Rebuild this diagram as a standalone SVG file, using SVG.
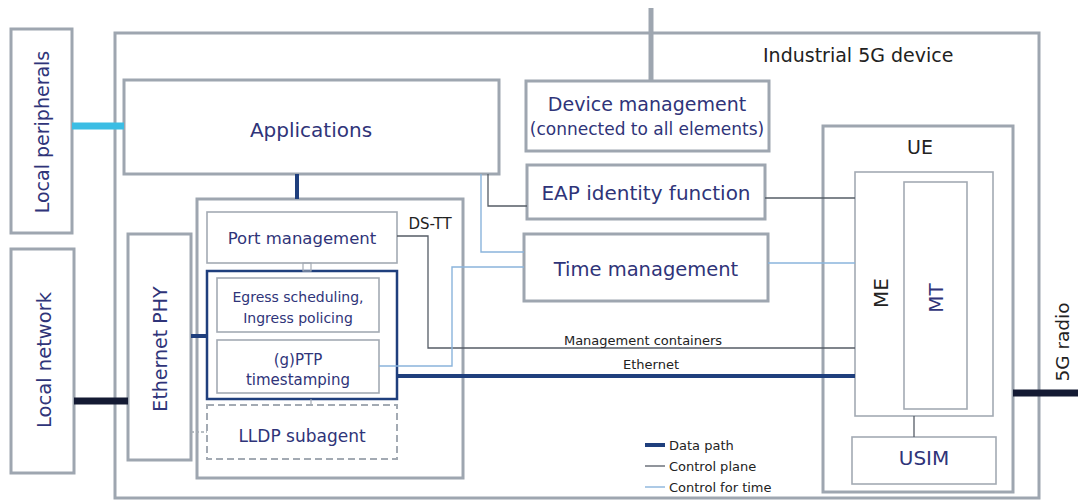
<svg xmlns="http://www.w3.org/2000/svg" width="1078" height="502" viewBox="0 0 1078 502">
<style>
text{font-family:"DejaVu Sans","Liberation Sans",sans-serif;}
.lbl{fill:#2f3479;}
.blk{fill:#222222;}
.box{fill:#ffffff;stroke:#9ea6b0;stroke-width:3;}
.thin{fill:#ffffff;stroke:#a3aab3;stroke-width:1.6;}
.data{stroke:#1f3f7d;stroke-width:4;fill:none;}
.ctrl{stroke:#555c66;stroke-width:1.3;fill:none;}
.time{stroke:#8ab4dc;stroke-width:1.4;fill:none;}
</style>
<rect width="1078" height="502" fill="#ffffff"/>

<g id="industrial-5g-device">
<rect class="box" x="115" y="33" width="924" height="465" stroke-width="3.3"/>
<text class="blk" x="763" y="62" font-size="19">Industrial 5G device</text>
</g>

<g id="local-peripherals">
<rect class="box" x="11" y="29" width="61" height="204"/>
<text class="lbl" transform="translate(49,132) rotate(-90)" font-size="19" text-anchor="middle">Local peripherals</text>
</g>

<g id="local-network">
<rect class="box" x="11" y="249" width="63" height="224"/>
<text class="lbl" transform="translate(51,360) rotate(-90)" font-size="19.5" text-anchor="middle">Local network</text>
</g>

<g id="applications">
<rect class="box" x="124" y="80" width="375" height="94"/>
<text class="lbl" x="311" y="137" font-size="20" text-anchor="middle">Applications</text>
</g>

<g id="device-management">
<rect class="box" x="526" y="81" width="243" height="70"/>
<text class="lbl" x="647" y="111" font-size="19" text-anchor="middle">Device management</text>
<text class="lbl" x="647" y="135" font-size="17" text-anchor="middle">(connected to all elements)</text>
</g>

<g id="eap-identity-function">
<rect class="box" x="527" y="165" width="238" height="54"/>
<text class="lbl" x="646" y="200" font-size="20" text-anchor="middle">EAP identity function</text>
</g>

<g id="time-management">
<rect class="box" x="524" y="234" width="244" height="67"/>
<text class="lbl" x="646" y="276" font-size="19.5" text-anchor="middle">Time management</text>
</g>

<g id="ethernet-phy">
<rect class="box" x="128" y="234" width="63" height="226"/>
<text class="lbl" transform="translate(167,349) rotate(-90)" font-size="19" text-anchor="middle">Ethernet PHY</text>
</g>

<g id="ds-tt">
<rect class="box" x="197" y="199" width="266" height="279"/>
<text class="blk" x="430" y="229" font-size="15" text-anchor="middle">DS-TT</text>
</g>

<g id="port-management">
<rect class="thin" x="207" y="212" width="190" height="51"/>
<text class="lbl" x="302" y="244" font-size="16.5" text-anchor="middle">Port management</text>
</g>

<g id="switching-block">
<rect x="207" y="271" width="190" height="128" fill="#ffffff" stroke="#1f3f7d" stroke-width="2.5"/>
</g>

<g id="egress-ingress">
<rect class="thin" x="217" y="278" width="162" height="54"/>
<text class="lbl" x="298" y="302" font-size="14" text-anchor="middle">Egress scheduling,</text>
<text class="lbl" x="298" y="323" font-size="14" text-anchor="middle">Ingress policing</text>
</g>

<g id="gptp-timestamping">
<rect class="thin" x="217" y="340" width="162" height="53"/>
<text class="lbl" x="298" y="365" font-size="15" text-anchor="middle">(g)PTP</text>
<text class="lbl" x="298" y="385" font-size="15" text-anchor="middle">timestamping</text>
</g>

<g id="lldp-subagent">
<rect x="207" y="405" width="190" height="54" fill="#ffffff" stroke="#a3aab3" stroke-width="2" stroke-dasharray="7,4"/>
<text class="lbl" x="302" y="442" font-size="17" text-anchor="middle">LLDP subagent</text>
</g>

<g id="ue">
<rect class="box" x="823" y="126" width="190" height="366"/>
<text class="blk" x="920" y="154" font-size="19" text-anchor="middle">UE</text>
</g>

<g id="me">
<rect class="thin" x="855" y="172" width="138" height="244" stroke-width="2"/>
<text class="blk" transform="translate(888,293) rotate(-90)" font-size="20" text-anchor="middle">ME</text>
</g>

<g id="mt">
<rect class="thin" x="904" y="182" width="63" height="227" stroke-width="2"/>
<text class="lbl" transform="translate(943,298) rotate(-90)" font-size="20" text-anchor="middle">MT</text>
</g>

<g id="usim">
<rect class="thin" x="852" y="437" width="144" height="47" stroke-width="2"/>
<text class="lbl" x="924" y="465" font-size="20" text-anchor="middle">USIM</text>
</g>

<g id="radio-label">
<text class="blk" transform="translate(1069,342) rotate(-90)" font-size="18.5" text-anchor="middle">5G radio</text>
</g>

<g id="connectors">
<line x1="651" y1="8" x2="651" y2="81" stroke="#9ea6b0" stroke-width="5"/>
<line x1="72" y1="126" x2="124" y2="126" stroke="#3bbde4" stroke-width="7"/>
<line x1="74" y1="401" x2="128" y2="401" stroke="#141a33" stroke-width="7"/>
<line x1="1013" y1="393" x2="1078" y2="393" stroke="#141a33" stroke-width="7"/>
<line class="data" x1="297" y1="174" x2="297" y2="199"/>
<line class="data" x1="191" y1="336" x2="207" y2="336"/>
<line class="data" x1="397" y1="376" x2="855" y2="376"/>
<polyline class="ctrl" points="397,236 428,236 428,348 855,348"/>
<polyline class="ctrl" points="488,174 488,206 527,206"/>
<line class="ctrl" x1="765" y1="198" x2="855" y2="198"/>
<line class="ctrl" x1="914" y1="416" x2="914" y2="437"/>
<polyline class="time" points="481,174 481,252 524,252"/>
<polyline class="time" points="379,366 452,366 452,267 524,267"/>
<line class="time" x1="768" y1="263" x2="855" y2="263"/>
<rect x="303" y="263" width="8" height="8" fill="none" stroke="#a3aab3" stroke-width="1.2"/>
<line x1="311" y1="399" x2="311" y2="405" stroke="#a3aab3" stroke-width="1.2"/>
<line x1="191" y1="432" x2="207" y2="432" stroke="#a3aab3" stroke-width="1.5" stroke-dasharray="3,2"/>
<text class="blk" x="643" y="345" font-size="13" text-anchor="middle">Management containers</text>
<text class="blk" x="651" y="369" font-size="13" text-anchor="middle">Ethernet</text>
</g>

<g id="legend">
<line class="data" x1="645" y1="445" x2="665" y2="445"/>
<line class="ctrl" x1="645" y1="466" x2="665" y2="466"/>
<line class="time" x1="645" y1="487" x2="665" y2="487"/>
<text class="blk" x="669" y="450" font-size="13">Data path</text>
<text class="blk" x="669" y="471" font-size="13">Control plane</text>
<text class="blk" x="669" y="492" font-size="13">Control for time</text>
</g>
</svg>
